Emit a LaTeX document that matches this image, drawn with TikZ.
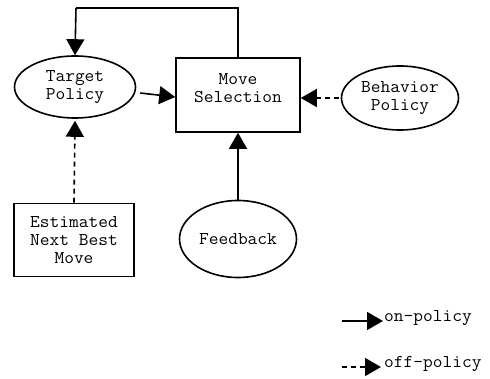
\documentclass[tikz,border=0pt]{standalone}
\usepackage{fontspec}
\newfontfamily\typefont{Latin Modern Mono}[FakeStretch=1.05]
\usetikzlibrary{arrows.meta,shapes.geometric}
\begin{document}
\begin{tikzpicture}[x=1pt,y=-1pt,
  lbl/.style={font=\typefont\fontsize{18}{18}\selectfont, align=center, inner sep=0pt},
  ell/.style={lbl, draw, ellipse, line width=1.6pt},
  boxnode/.style={lbl, draw, rectangle, line width=1.6pt},
  solidarr/.style={line width=1.6pt, -{Triangle[length=16pt,width=18pt]}},
  dasharr/.style={solidarr, dash pattern=on 5pt off 4pt},
  link/.style={line width=1.6pt}
]
\useasboundingbox (0,0) rectangle (490,379);

% main elements
\node[ell, minimum width=121pt, minimum height=62pt] (tp) at (75,87) {Target\\Policy};
\node[boxnode, minimum width=124pt, minimum height=74pt] (ms) at (238,95) {};
\node[lbl] (mstext) at ([yshift=7pt]ms.center) {Move\\Selection};
\node[ell, minimum width=117pt, minimum height=64pt] (bp) at (400,98) {Behavior\\Policy};
\node[ell, minimum width=117pt, minimum height=77pt] (fb) at (238,239) {Feedback};
\node[boxnode, minimum width=120pt, minimum height=73pt] (en) at (74,240) {Estimated\\Next Best\\Move};

% loop from the selection back to the target policy
\coordinate (up) at (238,8);
\coordinate (left) at (76,8);
\draw[link] (ms.north) -- (up) -- (left);
\draw[solidarr] (left) -- (tp.north);

% connectors into the move selection
\draw[solidarr] ([xshift=4pt,yshift=-6pt]tp.east) -- ([yshift=-2pt]ms.west);
\draw[dasharr] ([xshift=-2pt]bp.west) -- (ms.east|-bp.west);
\draw[solidarr] (fb.north) -- (ms.south);
\draw[dasharr] (en.north) -- ([yshift=-2pt]tp.south);

% legend
\coordinate (l1a) at (342,321);
\coordinate (l1b) at (383,321);
\coordinate (l2a) at (342,367);
\coordinate (l2b) at (381,367);
\draw[solidarr] (l1a) -- (l1b);
\draw[dasharr] (l2a) -- (l2b);
\node[lbl, anchor=west] (on) at (384,318) {on-policy};
\node[lbl, anchor=west] (off) at (384,364) {off-policy};
\end{tikzpicture}
\end{document}
